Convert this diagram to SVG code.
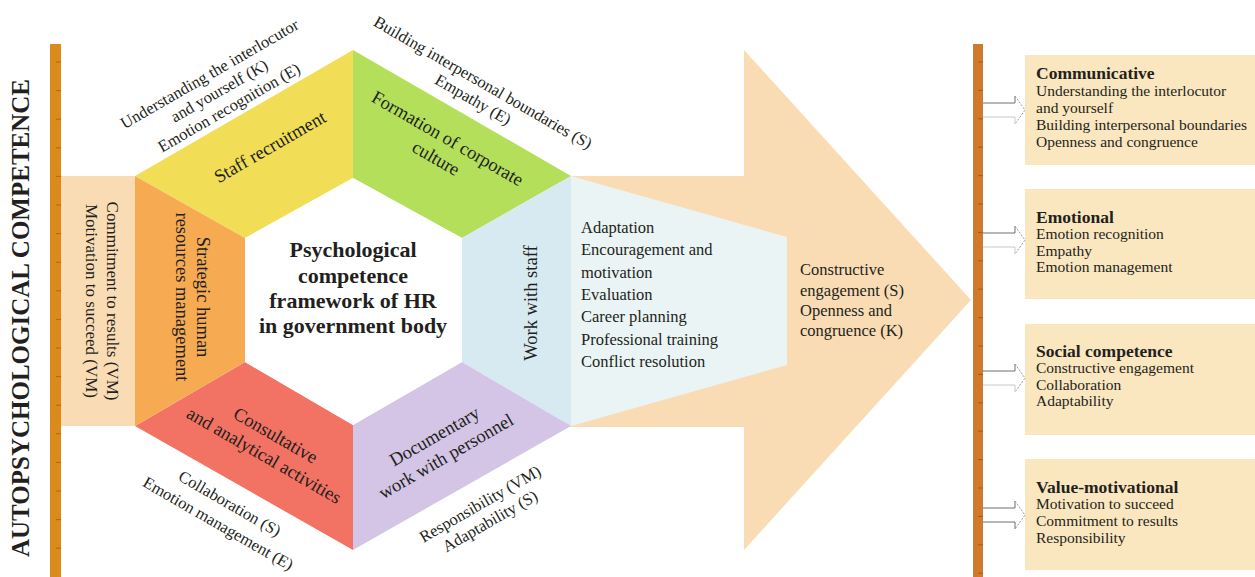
<svg xmlns="http://www.w3.org/2000/svg" width="1255" height="577" viewBox="0 0 1255 577">
<style>
.t{font-family:"Liberation Serif","Times New Roman",serif;fill:#231f20}
.seg{font-size:18.5px}
.out{font-size:16.5px}
.lst{font-size:16.5px}
.bx{font-size:15.5px}
.bh{font-size:17.5px;font-weight:bold}
.tickL{stroke:#a45f0c;stroke-width:0.8}
.tickR{stroke:#9a5418;stroke-width:0.8}
.up{fill:none;stroke:#6e6e6e;stroke-width:1}
.hd{fill:none;stroke:#9a9a9a;stroke-width:1;stroke-dasharray:2 1.5}
.lo{fill:none;stroke:#c8c8c8;stroke-width:1}
.box{fill:#fae6bf}
</style>
<rect width="1255" height="577" fill="#ffffff"/>

<g id="title-autopsychological">
<rect x="50" y="44" width="11" height="533" fill="#db8a1c"/>
<g>
<line class="tickL" x1="56" y1="62" x2="61" y2="62"/><line class="tickL" x1="56" y1="90.6" x2="61" y2="90.6"/><line class="tickL" x1="56" y1="119.2" x2="61" y2="119.2"/><line class="tickL" x1="56" y1="147.8" x2="61" y2="147.8"/><line class="tickL" x1="56" y1="176.4" x2="61" y2="176.4"/><line class="tickL" x1="56" y1="205" x2="61" y2="205"/><line class="tickL" x1="56" y1="233.6" x2="61" y2="233.6"/><line class="tickL" x1="56" y1="262.2" x2="61" y2="262.2"/><line class="tickL" x1="56" y1="290.8" x2="61" y2="290.8"/><line class="tickL" x1="56" y1="319.4" x2="61" y2="319.4"/><line class="tickL" x1="56" y1="348" x2="61" y2="348"/><line class="tickL" x1="56" y1="376.6" x2="61" y2="376.6"/><line class="tickL" x1="56" y1="405.2" x2="61" y2="405.2"/><line class="tickL" x1="56" y1="433.8" x2="61" y2="433.8"/><line class="tickL" x1="56" y1="462.4" x2="61" y2="462.4"/><line class="tickL" x1="56" y1="491" x2="61" y2="491"/><line class="tickL" x1="56" y1="519.6" x2="61" y2="519.6"/><line class="tickL" x1="56" y1="548.2" x2="61" y2="548.2"/>
</g>
<text class="t" transform="translate(29,318) rotate(-90)" text-anchor="middle" font-size="25" font-weight="bold">AUTOPSYCHOLOGICAL COMPETENCE</text>
</g>

<g id="value-motivational-left">
<rect x="61" y="176" width="74" height="250" fill="#f9dcb4"/>
<text class="t" transform="translate(97,301) rotate(90)" text-anchor="middle" font-size="17"><tspan x="0" y="-10">Commitment to results (VM)</tspan><tspan x="0" y="11">Motivation to succeed (VM)</tspan></text>
</g>

<g id="flow-arrow">
<polygon points="560,176 744,176 744,50 971,300 744,550 744,427 560,427" fill="#f9dcb4"/>
<text class="t" font-size="16.5"><tspan x="800" y="275">Constructive</tspan><tspan x="800" y="296">engagement (S)</tspan><tspan x="800" y="316">Openness and</tspan><tspan x="800" y="336">congruence (K)</tspan></text>
</g>

<g id="work-with-staff-list">
<polygon points="571,176 787,237 787,365 571,426" fill="#eaf4f5"/>
<text class="t lst"><tspan x="581" y="233">Adaptation</tspan><tspan x="581" y="255">Encouragement and</tspan><tspan x="581" y="278">motivation</tspan><tspan x="581" y="300">Evaluation</tspan><tspan x="581" y="322">Career planning</tspan><tspan x="581" y="345">Professional training</tspan><tspan x="581" y="367">Conflict resolution</tspan></text>
</g>

<g id="staff-recruitment">
<polygon points="135,176 353,50 353,178 245,238" fill="#f1de56"/>
<text class="t seg" transform="translate(270,147) rotate(-30)" text-anchor="middle" y="6">Staff recruitment</text>
</g>

<g id="corporate-culture">
<polygon points="353,50 571,176 462,238 353,178" fill="#b3df5b"/>
<text class="t seg" transform="translate(442,148) rotate(30)" text-anchor="middle"><tspan x="0" y="-5">Formation of corporate</tspan><tspan x="0" y="18">culture</tspan></text>
</g>

<g id="work-with-staff">
<polygon points="571,176 571,426 462,362 462,238" fill="#d8eaf1"/>
<text class="t" transform="translate(529,303) rotate(-90)" text-anchor="middle" y="8" font-size="18.5">Work with staff</text>
</g>

<g id="documentary-work">
<polygon points="571,426 353,550 353,425 462,362" fill="#d4c4e6"/>
<text class="t seg" transform="translate(440,446) rotate(-30)" text-anchor="middle"><tspan x="0" y="-5">Documentary</tspan><tspan x="0" y="18">work with personnel</tspan></text>
</g>

<g id="consultative-activities">
<polygon points="353,550 135,426 245,362 353,425" fill="#f27263"/>
<text class="t seg" transform="translate(270,445) rotate(30)" text-anchor="middle"><tspan x="0" y="-5">Consultative</tspan><tspan x="0" y="18">and analytical activities</tspan></text>
</g>

<g id="strategic-hrm">
<polygon points="135,426 135,176 245,238 245,362" fill="#f6ab52"/>
<text class="t seg" transform="translate(190,297) rotate(90)" text-anchor="middle"><tspan x="0" y="-7">Strategic human</tspan><tspan x="0" y="14">resources management</tspan></text>
</g>

<g id="center">
<polygon points="245,238 353,178 462,238 462,362 353,425 245,362" fill="#ffffff"/>
<text class="t" text-anchor="middle" font-size="22" font-weight="bold"><tspan x="353" y="257">Psychological</tspan><tspan x="353" y="283">competence</tspan><tspan x="353" y="308">framework of HR</tspan><tspan x="353" y="333">in government body</tspan></text>
</g>

<g id="label-top-left">
<text class="t out" transform="translate(220,92) rotate(-30)" text-anchor="middle"><tspan x="0" y="-15.5">Understanding the interlocutor</tspan><tspan x="0" y="4">and yourself (K)</tspan><tspan x="0" y="23.5">Emotion recognition (E)</tspan></text>
</g>
<g id="label-top-right">
<text class="t out" transform="translate(478,91) rotate(30)" text-anchor="middle"><tspan x="0" y="-4.3">Building interpersonal boundaries (S)</tspan><tspan x="0" y="15.3">Empathy (E)</tspan></text>
</g>
<g id="label-bottom-left">
<text class="t out" transform="translate(224,513.5) rotate(30)" text-anchor="middle"><tspan x="0" y="-6">Collaboration (S)</tspan><tspan x="0" y="17">Emotion management (E)</tspan></text>
</g>
<g id="label-bottom-right">
<text class="t out" transform="translate(485,512.5) rotate(-30)" text-anchor="middle"><tspan x="0" y="-4.4">Responsibility (VM)</tspan><tspan x="0" y="15.4">Adaptability (S)</tspan></text>
</g>

<g id="right-bar">
<rect x="973" y="44" width="10" height="533" fill="#cf7a2c"/>
<g>
<line class="tickR" x1="978" y1="62" x2="983" y2="62"/><line class="tickR" x1="978" y1="90.4" x2="983" y2="90.4"/><line class="tickR" x1="978" y1="118.8" x2="983" y2="118.8"/><line class="tickR" x1="978" y1="147.2" x2="983" y2="147.2"/><line class="tickR" x1="978" y1="175.6" x2="983" y2="175.6"/><line class="tickR" x1="978" y1="204" x2="983" y2="204"/><line class="tickR" x1="978" y1="232.4" x2="983" y2="232.4"/><line class="tickR" x1="978" y1="260.8" x2="983" y2="260.8"/><line class="tickR" x1="978" y1="289.2" x2="983" y2="289.2"/><line class="tickR" x1="978" y1="317.6" x2="983" y2="317.6"/><line class="tickR" x1="978" y1="346" x2="983" y2="346"/><line class="tickR" x1="978" y1="374.4" x2="983" y2="374.4"/><line class="tickR" x1="978" y1="402.8" x2="983" y2="402.8"/><line class="tickR" x1="978" y1="431.2" x2="983" y2="431.2"/><line class="tickR" x1="978" y1="459.6" x2="983" y2="459.6"/><line class="tickR" x1="978" y1="488" x2="983" y2="488"/><line class="tickR" x1="978" y1="516.4" x2="983" y2="516.4"/><line class="tickR" x1="978" y1="544.8" x2="983" y2="544.8"/><line class="tickR" x1="978" y1="573.2" x2="983" y2="573.2"/>
</g>
</g>

<g id="box-communicative">
<rect class="box" x="1025" y="55" width="230" height="110"/>
<text class="t"><tspan class="bh" x="1036" y="79">Communicative</tspan><tspan class="bx" x="1036" y="96">Understanding the interlocutor</tspan><tspan class="bx" x="1036" y="113">and yourself</tspan><tspan class="bx" x="1036" y="130">Building interpersonal boundaries</tspan><tspan class="bx" x="1036" y="147">Openness and congruence</tspan></text>
</g>
<g id="box-emotional">
<rect class="box" x="1025" y="189" width="230" height="110"/>
<text class="t"><tspan class="bh" x="1036" y="223">Emotional</tspan><tspan class="bx" x="1036" y="239">Emotion recognition</tspan><tspan class="bx" x="1036" y="255.5">Empathy</tspan><tspan class="bx" x="1036" y="272">Emotion management</tspan></text>
</g>
<g id="box-social">
<rect class="box" x="1025" y="324" width="230" height="111"/>
<text class="t"><tspan class="bh" x="1036" y="357">Social competence</tspan><tspan class="bx" x="1036" y="373">Constructive engagement</tspan><tspan class="bx" x="1036" y="389.5">Collaboration</tspan><tspan class="bx" x="1036" y="406">Adaptability</tspan></text>
</g>
<g id="box-value-motivational">
<rect class="box" x="1025" y="459" width="230" height="111"/>
<text class="t"><tspan class="bh" x="1036" y="493">Value-motivational</tspan><tspan class="bx" x="1036" y="509">Motivation to succeed</tspan><tspan class="bx" x="1036" y="526">Commitment to results</tspan><tspan class="bx" x="1036" y="542.5">Responsibility</tspan></text>
</g>

<g id="connectors">
<path class="up" d="M983,103 H1015 V96"/><path class="hd" d="M1015,96 L1025,110 L1015,124"/><path class="lo" d="M1015,124 V117 H983"/>
<path class="up" d="M983,233 H1015 V226"/><path class="hd" d="M1015,226 L1025,240 L1015,254"/><path class="lo" d="M1015,254 V247 H983"/>
<path class="up" d="M983,371 H1015 V364"/><path class="hd" d="M1015,364 L1025,378 L1015,392"/><path class="lo" d="M1015,392 V385 H983"/>
<path class="up" d="M983,508 H1015 V501"/><path class="hd" d="M1015,501 L1025,515 L1015,529"/><path class="up" d="M1015,529 V522 H983"/>
</g>
</svg>
